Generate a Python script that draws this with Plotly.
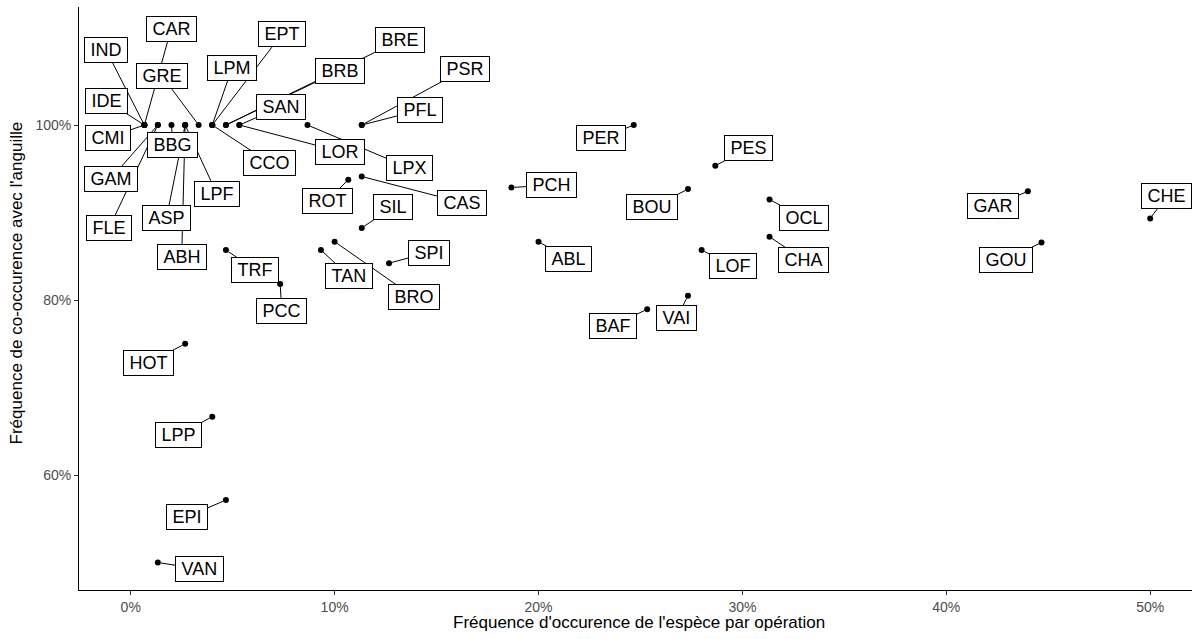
import plotly.graph_objects as go

# ---- data ----
species = ["IND", "IDE", "CMI", "CAR", "GAM", "FLE", "BBG", "ASP", "ABH", "LPF",
           "GRE", "LPM", "EPT", "CCO", "BRE", "BRB", "SAN", "LOR", "LPX", "PFL",
           "PSR", "PER", "PES", "PCH", "ROT", "CAS", "SIL", "BOU", "OCL", "GAR",
           "CHE", "TRF", "SPI", "TAN", "BRO", "ABL", "LOF", "CHA", "GOU", "PCC",
           "BAF", "VAI", "HOT", "LPP", "EPI", "VAN"]
freq_occurence = [0.67, 0.67, 0.67, 0.67, 1.33, 1.33, 2.00, 2.67, 2.67, 2.67,
                  3.33, 4.00, 4.00, 4.00, 4.67, 4.67, 5.33, 5.33, 8.67, 11.33,
                  11.33, 24.67, 28.67, 18.67, 10.67, 11.33, 11.33, 27.33, 31.33, 44.00,
                  50.00, 4.67, 12.67, 9.33, 10.00, 20.00, 28.00, 31.33, 44.67, 7.33,
                  25.33, 27.33, 2.67, 4.00, 4.67, 1.33]
freq_cooccurence = [100, 100, 100, 100, 100, 100, 100, 100, 100, 100,
                    100, 100, 100, 100, 100, 100, 100, 100, 100, 100,
                    100, 100, 95.35, 92.86, 93.75, 94.12, 88.24, 92.68, 91.49, 92.42,
                    89.33, 85.71, 84.21, 85.71, 86.67, 86.67, 85.71, 87.23, 86.57, 81.82,
                    78.95, 80.49, 75.00, 66.67, 57.14, 50.00]

x_ticks = [0, 10, 20, 30, 40, 50]
x_tick_labels = ["0%", "10%", "20%", "30%", "40%", "50%"]
y_ticks = [60, 80, 100]
y_tick_labels = ["60%", "80%", "100%"]

x_title = "Fréquence d'occurence de l'espèce par opération"
y_title = "Fréquence de co-occurence avec l'anguille"

# ---- label placement (repelled label centres, in axis units) ----
label_pos = {
    "IND": (-1.21, 108.57), "CAR": (1.98, 110.97), "EPT": (7.42, 110.40),
    "BRE": (13.21, 109.71), "LPM": (4.97, 106.51), "BRB": (10.26, 106.23),
    "PSR": (16.40, 106.40), "GRE": (1.54, 105.60), "IDE": (-1.21, 102.80),
    "SAN": (7.37, 102.09), "PFL": (14.19, 101.71), "CMI": (-1.11, 98.57),
    "BBG": (2.07, 97.71), "CCO": (6.83, 95.66), "LOR": (10.26, 96.97),
    "LPX": (13.67, 95.09), "CAS": (16.25, 91.14), "ROT": (9.63, 91.31),
    "SIL": (12.86, 90.63), "GAM": (-0.99, 93.83), "LPF": (4.23, 92.11),
    "FLE": (-1.06, 88.23), "ASP": (1.76, 89.43), "ABH": (2.50, 84.95),
    "TRF": (6.12, 83.46), "TAN": (10.71, 82.74), "SPI": (14.61, 85.43),
    "BRO": (13.89, 80.34), "PCC": (7.41, 78.74), "HOT": (0.86, 72.77),
    "LPP": (2.33, 64.57), "EPI": (2.74, 55.20), "VAN": (3.36, 49.26),
    "PER": (23.07, 98.48), "PES": (30.31, 97.33), "PCH": (20.65, 93.14),
    "BOU": (25.59, 90.59), "OCL": (33.01, 89.39), "CHA": (33.02, 84.57),
    "ABL": (21.47, 84.69), "LOF": (29.52, 83.90), "BAF": (23.65, 77.05),
    "VAI": (26.78, 77.96), "GAR": (42.27, 90.72), "CHE": (50.81, 91.85),
    "GOU": (42.93, 84.61),
}

FONT_FAMILY = "Liberation Sans, Arial, sans-serif"
LABEL_FONT = dict(family=FONT_FAMILY, size=18, color="black")
PAD = 2
THIN = "\u2009"


def boxed(name):
    return THIN + name + THIN


fig = go.Figure()
fig.add_trace(go.Scatter(
    x=freq_occurence, y=freq_cooccurence, mode="markers",
    marker=dict(color="black", size=6), hoverinfo="text", text=species,
    showlegend=False,
))

annotations = []
# segments first (invisible text boxes used only for clipping the segments)
for name, px, py in zip(species, freq_occurence, freq_cooccurence):
    lx, ly = label_pos[name]
    annotations.append(dict(
        x=px, y=py, xref="x", yref="y", ax=lx, ay=ly, axref="x", ayref="y",
        text=boxed(name), showarrow=True, arrowhead=0, arrowwidth=1,
        arrowcolor="black", standoff=3, font=dict(LABEL_FONT, color="rgba(0,0,0,0)"),
        bgcolor="rgba(0,0,0,0)", bordercolor="rgba(0,0,0,0)", borderwidth=1,
        borderpad=PAD,
    ))
# labels on top
for name in species:
    lx, ly = label_pos[name]
    annotations.append(dict(
        x=lx, y=ly, xref="x", yref="y", text=boxed(name), showarrow=False,
        font=LABEL_FONT, bgcolor="white", bordercolor="black", borderwidth=1,
        borderpad=PAD, xanchor="center", yanchor="middle",
    ))

# axis titles
annotations.append(dict(
    x=0.503, y=-0.0549, xref="paper", yref="paper", text=x_title, showarrow=False,
    font=dict(family=FONT_FAMILY, size=17, color="black"),
    xanchor="center", yanchor="middle",
))
annotations.append(dict(
    x=-0.0553, y=0.5266, xref="paper", yref="paper", text=y_title, showarrow=False,
    textangle=-90, font=dict(family=FONT_FAMILY, size=17, color="black"),
    xanchor="center", yanchor="middle",
))

axis_common = dict(
    showgrid=False, zeroline=False, showline=True, linecolor="black", linewidth=1,
    ticks="outside", ticklen=4, tickcolor="#333333", tickwidth=1,
    tickfont=dict(family=FONT_FAMILY, size=14, color="#4D4D4D"),
    automargin=False,
)

fig.update_layout(
    width=1198, height=639,
    margin=dict(l=79, r=6, t=7, b=49),
    paper_bgcolor="white", plot_bgcolor="white",
    font=dict(family=FONT_FAMILY, color="black"),
    annotations=annotations,
    xaxis=dict(range=[-2.536, 52.05], tickvals=x_ticks, ticktext=x_tick_labels,
               **axis_common),
    yaxis=dict(range=[46.857, 113.49], tickvals=y_ticks, ticktext=y_tick_labels,
               **axis_common),
)

fig.write_html(
    "out.html",
    config={"displayModeBar": False},
    post_script="document.body.style.margin='0px';document.body.style.overflow='hidden';",
)
